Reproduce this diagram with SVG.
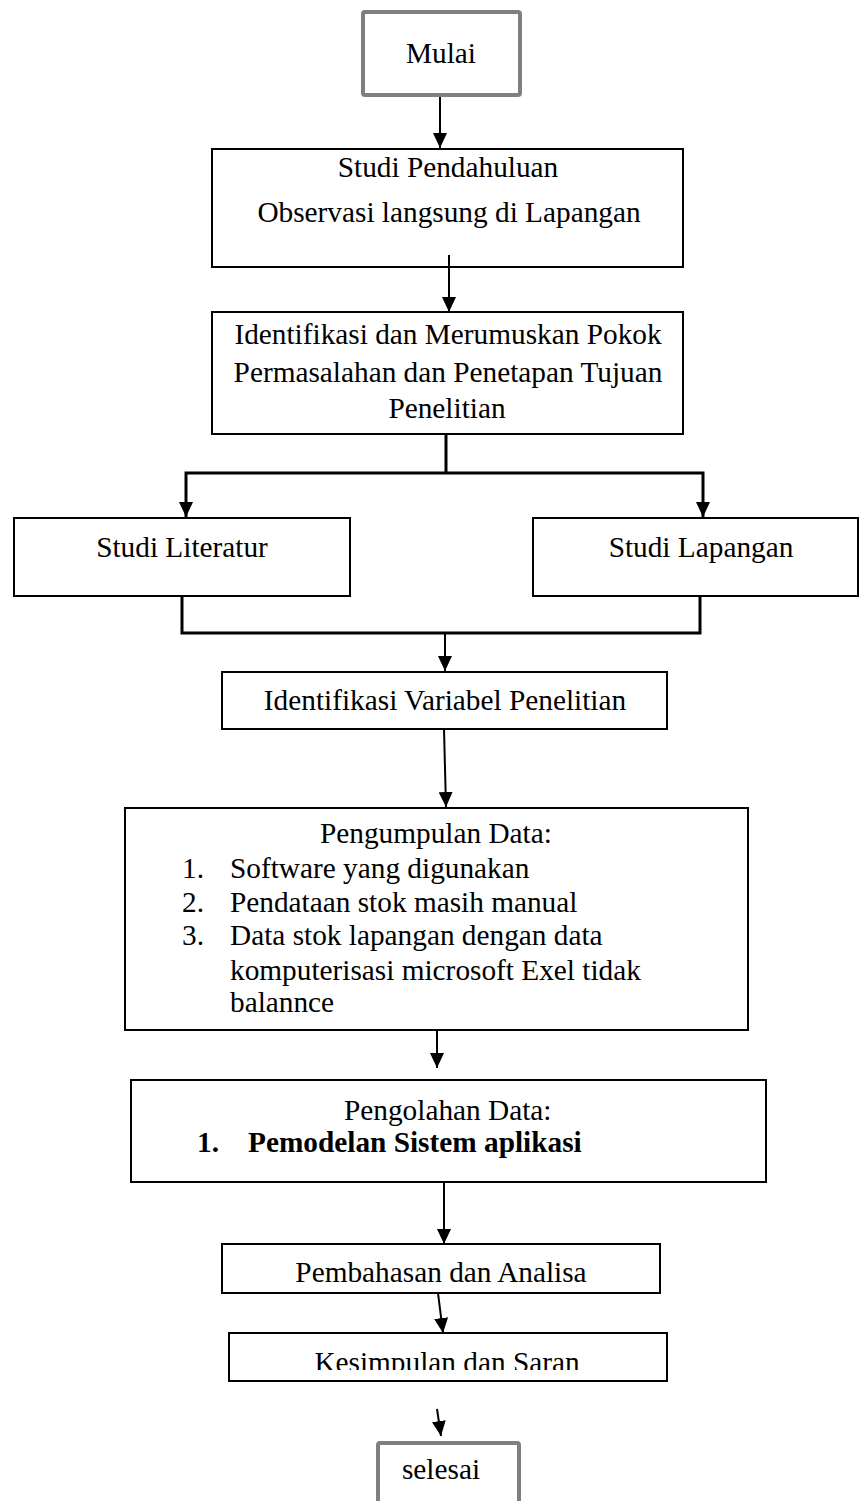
<svg xmlns="http://www.w3.org/2000/svg" width="860" height="1501" viewBox="0 0 860 1501">
<style>
.box{fill:#fff;stroke:#000;stroke-width:2}
.term{fill:#fff;stroke:#7f7f7f;stroke-width:4}
.t{font-family:"Liberation Serif","Times New Roman",serif;font-size:29.3px;fill:#000}
.c{text-anchor:middle}
.b{font-weight:bold}
.con{fill:none;stroke:#000;stroke-width:2}
.thick{stroke-width:3}
</style>
<defs>
<marker id="ah" markerUnits="userSpaceOnUse" markerWidth="15" markerHeight="14" refX="15" refY="7" orient="auto">
<path d="M0,0 L15,7 L0,14 Z" fill="#000"/>
</marker>
<clipPath id="clipK"><rect x="229" y="1333" width="438" height="37"/></clipPath>
</defs>
<rect width="860" height="1501" fill="#fff"/>
<g id="connectors">
<line class="con" x1="440" y1="97" x2="440" y2="148" marker-end="url(#ah)"/>
<line class="con" x1="449" y1="255" x2="449" y2="312" marker-end="url(#ah)"/>
<line class="con thick" x1="446" y1="434" x2="446" y2="473"/>
<polyline class="con thick" points="186,517 186,473 703,473 703,517" marker-end="url(#ah)" style="marker-end:none"/>
<line class="con" x1="186" y1="473" x2="186" y2="517" marker-end="url(#ah)"/>
<line class="con" x1="703" y1="473" x2="703" y2="517" marker-end="url(#ah)"/>
<polyline class="con thick" points="182,596 182,633 700,633 700,596"/>
<line class="con" x1="445" y1="633" x2="445" y2="671" marker-end="url(#ah)"/>
<line class="con" x1="444" y1="729" x2="446" y2="807" marker-end="url(#ah)"/>
<line class="con" x1="437" y1="1030" x2="437" y2="1068" marker-end="url(#ah)"/>
<line class="con" x1="444" y1="1182" x2="444" y2="1244" marker-end="url(#ah)"/>
<line class="con" x1="438" y1="1293" x2="443" y2="1333" marker-end="url(#ah)"/>
<line class="con" x1="437" y1="1409" x2="441" y2="1436" marker-end="url(#ah)"/>
</g>
<g id="mulai">
<rect class="term" x="363" y="12" width="157" height="83" rx="2"/>
<text class="t c" x="441" y="63">Mulai</text>
</g>
<g id="studi-pendahuluan">
<rect class="box" x="212" y="149" width="471" height="118"/>
<text class="t c" x="448" y="177">Studi Pendahuluan</text>
<text class="t c" x="449" y="222">Observasi langsung di Lapangan</text>
<line class="con" x1="449" y1="255" x2="449" y2="267"/>
</g>
<g id="identifikasi-masalah">
<rect class="box" x="212" y="312" width="471" height="122"/>
<text class="t c" x="448" y="344">Identifikasi dan Merumuskan Pokok</text>
<text class="t c" x="448" y="382">Permasalahan dan Penetapan Tujuan</text>
<text class="t c" x="447" y="418">Penelitian</text>
</g>
<g id="studi-literatur">
<rect class="box" x="14" y="518" width="336" height="78"/>
<text class="t c" x="182" y="557">Studi Literatur</text>
</g>
<g id="studi-lapangan">
<rect class="box" x="533" y="518" width="325" height="78"/>
<text class="t c" x="701" y="557">Studi Lapangan</text>
</g>
<g id="identifikasi-variabel">
<rect class="box" x="222" y="672" width="445" height="57"/>
<text class="t c" x="445" y="710">Identifikasi Variabel Penelitian</text>
</g>
<g id="pengumpulan-data">
<rect class="box" x="125" y="808" width="623" height="222"/>
<text class="t" x="320" y="843">Pengumpulan Data:</text>
<text class="t" x="182" y="878">1.</text>
<text class="t" x="230" y="878">Software yang digunakan</text>
<text class="t" x="182" y="912">2.</text>
<text class="t" x="230" y="912">Pendataan stok masih manual</text>
<text class="t" x="182" y="945">3.</text>
<text class="t" x="230" y="945">Data stok lapangan dengan data</text>
<text class="t" x="230" y="980">komputerisasi microsoft Exel tidak</text>
<text class="t" x="230" y="1012">balannce</text>
</g>
<g id="pengolahan-data">
<rect class="box" x="131" y="1080" width="635" height="102"/>
<text class="t" x="344" y="1120">Pengolahan Data:</text>
<text class="t b" x="197" y="1152">1.</text>
<text class="t b" x="248" y="1152">Pemodelan Sistem aplikasi</text>
</g>
<g id="pembahasan">
<rect class="box" x="222" y="1244" width="438" height="49"/>
<text class="t c" x="441" y="1282">Pembahasan dan Analisa</text>
</g>
<g id="kesimpulan">
<rect class="box" x="229" y="1333" width="438" height="48"/>
<text class="t c" x="447" y="1372" clip-path="url(#clipK)">Kesimpulan dan Saran</text>
</g>
<g id="selesai">
<rect class="term" x="378" y="1443" width="141" height="80" rx="2"/>
<text class="t c" x="441" y="1479">selesai</text>
</g>
</svg>
